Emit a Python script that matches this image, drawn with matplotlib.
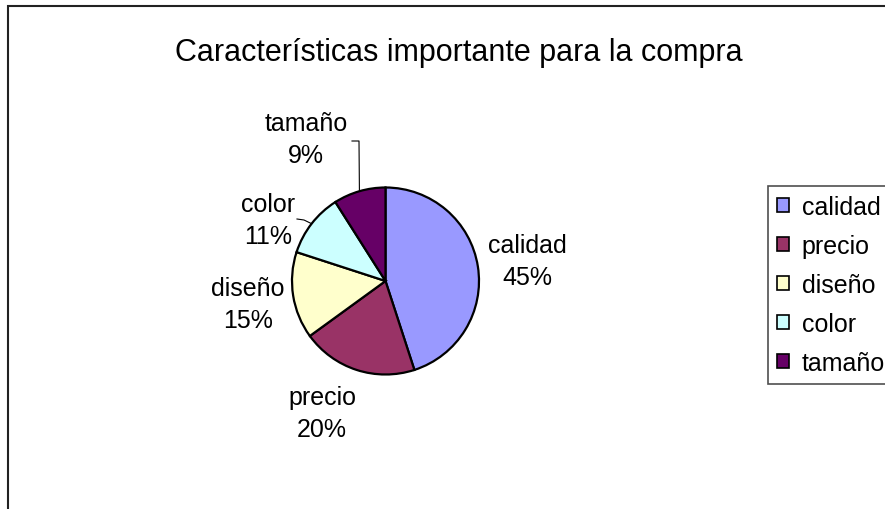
import matplotlib
matplotlib.use("Agg")
import matplotlib.pyplot as plt
from matplotlib.patches import Rectangle, Patch
import numpy as np

# datos del grafico
categorias = ["calidad", "precio", "diseño", "color", "tamaño"]
valores = [45, 20, 15, 11, 9]
colores = ["#9999FF", "#993366", "#FFFFCC", "#CCFFFF", "#660066"]
titulo = "Características importante para la compra"

plt.rcParams['font.family'] = ['Liberation Sans', 'DejaVu Sans']

W, H = 885, 510
fig = plt.figure(figsize=(W / 100, H / 100), dpi=100)

# marco del area del grafico (se sale por la derecha y abajo)
fig.add_artist(Rectangle((8 / W, -0.1), 2, 1.1 - 7 / H, transform=fig.transFigure,
                         fill=False, edgecolor='#222222', lw=1.5))

# pie en pixeles: centro y radio
cx, cy, r = 385.5, 282, 93.5
ax = fig.add_axes([(cx - r) / W, (H - cy - r) / H, 2 * r / W, 2 * r / H])
wedges, _ = ax.pie(valores, colors=colores, startangle=90, counterclock=False,
                   radius=1, wedgeprops=dict(edgecolor='black', linewidth=1.6))
ax.set_xlim(-1, 1); ax.set_ylim(-1, 1)
ax.set_aspect('equal')
ax.axis('off')

def px(x, y):  # pixeles -> coordenadas del pie
    return (x - cx) / r, (cy - y) / r

# posiciones de etiquetas (pixeles)
pos_etiquetas = [(527, 262), (322, 414), (248, 305), (268, 221), (306, 140)]
total = sum(valores)
for w, nom, v, (lx, ly) in zip(wedges, categorias, valores, pos_etiquetas):
    x, y = px(lx, ly)
    ax.text(x, y, "%s\n%d%%" % (nom, round(100 * v / total)), ha='center', va='center',
            fontsize=18, linespacing=1.42, clip_on=False)

# lineas guia para color y tamaño
guias = {3: [(297, 220), (304, 221)], 4: [(352, 142), (359, 142)]}
for i, pts in guias.items():
    w = wedges[i]
    ang = np.deg2rad((w.theta1 + w.theta2) / 2)
    xs = [px(*p)[0] for p in pts] + [np.cos(ang)]
    ys = [px(*p)[1] for p in pts] + [np.sin(ang)]
    ax.plot(xs, ys, color='black', lw=0.8, clip_on=False)

fig.text(459 / W, 1 - 61 / H, titulo, ha='center', va='baseline', fontsize=22)

handles = [Patch(facecolor=c, edgecolor='black', lw=1.2) for c in colores]
leg = fig.legend(handles, categorias, loc='upper left', bbox_to_anchor=(768 / W, 1 - 187 / H),
                 fontsize=18, frameon=True, fancybox=False, borderaxespad=0, borderpad=0.35,
                 handlelength=0.5, handleheight=0.5, handletextpad=0.5, labelspacing=0.6)
leg.get_frame().set_edgecolor('#222222')
leg.get_frame().set_linewidth(1.2)

fig.savefig("out.png", dpi=100)
